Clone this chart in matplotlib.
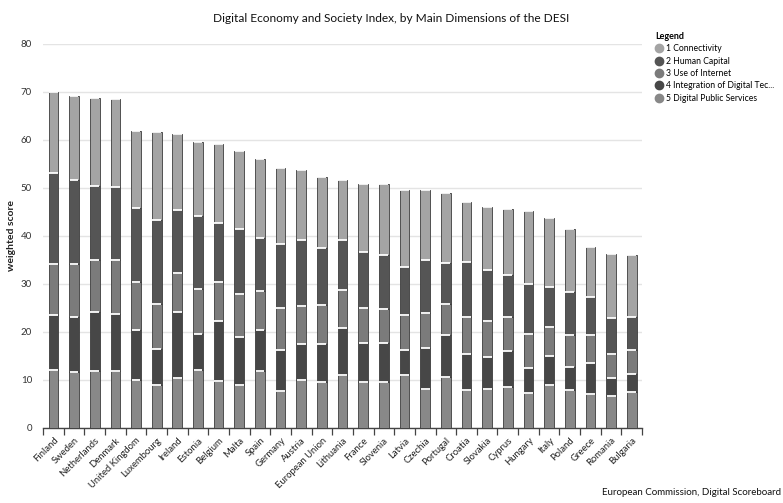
import numpy as np
import matplotlib
matplotlib.use("Agg")
import matplotlib.pyplot as plt
from matplotlib.lines import Line2D

plt.rcParams['font.family'] = ['Lato', 'DejaVu Sans']

countries = ["Finland", "Sweden", "Netherlands", "Denmark", "United Kingdom",
             "Luxembourg", "Ireland", "Estonia", "Belgium", "Malta", "Spain",
             "Germany", "Austria", "European Union", "Lithuania", "France",
             "Slovenia", "Latvia", "Czechia", "Portugal", "Croatia", "Slovakia",
             "Cyprus", "Hungary", "Italy", "Poland", "Greece", "Romania", "Bulgaria"]

# weighted scores per DESI dimension
digital_public_services = [11.9, 11.5, 11.7, 11.7, 9.9, 8.8, 10.4, 12.0, 9.8, 8.9, 11.7,
                           7.6, 9.9, 9.4, 11.0, 9.4, 9.4, 11.0, 8.1, 10.6, 7.8, 8.0,
                           8.5, 7.3, 8.8, 7.9, 7.0, 6.5, 7.5]
integration_digital_tech = [11.6, 11.6, 12.3, 11.9, 10.4, 7.5, 13.6, 7.6, 12.4, 9.9, 8.7,
                            8.6, 7.5, 8.0, 9.7, 8.2, 8.2, 5.2, 8.4, 8.6, 7.6, 6.7,
                            7.5, 5.2, 6.1, 4.7, 6.4, 3.9, 3.6]
use_of_internet = [10.5, 10.9, 11.0, 11.3, 10.1, 9.5, 8.2, 9.2, 8.1, 9.0, 8.1,
                   8.8, 8.0, 8.2, 7.9, 7.3, 7.1, 7.3, 7.3, 6.6, 7.7, 7.5,
                   7.1, 7.0, 6.1, 6.6, 5.9, 5.0, 5.1]
human_capital = [19.1, 17.5, 15.4, 15.2, 15.3, 17.4, 13.1, 15.3, 12.3, 13.6, 11.0,
                 13.3, 13.6, 11.8, 10.4, 11.6, 11.3, 9.9, 11.1, 8.6, 11.5, 10.7,
                 8.6, 10.4, 8.2, 9.1, 8.0, 7.4, 6.8]
connectivity = [16.8, 17.7, 18.3, 18.4, 16.1, 18.4, 15.9, 15.5, 16.6, 16.3, 16.4,
                15.9, 14.6, 14.8, 12.7, 14.2, 14.7, 16.2, 14.7, 14.5, 12.4, 13.1,
                13.9, 15.2, 14.4, 13.1, 10.4, 13.4, 13.0]

series_names = ["1 Connectivity", "2 Human Capital", "3 Use of Internet",
                "4 Integration of Digital Tec...", "5 Digital Public Services"]
series_colors = ["#a4a4a4", "#555555", "#7b7b7b", "#474747", "#888888"]

# stacked bottom to top: 5, 4, 3, 2, 1
stack = [digital_public_services, integration_digital_tech, use_of_internet,
         human_capital, connectivity]
stack_colors = series_colors[::-1]

fig = plt.figure(figsize=(7.83, 5.03), dpi=100)
ax = fig.add_axes([0.055, 0.150, 0.765, 0.763])

x = np.arange(len(countries))
width = 0.47
bottom = np.zeros(len(countries))
for vals, col in zip(stack, stack_colors):
    vals = np.asarray(vals)
    ax.bar(x, vals, width, bottom=bottom, color=col,
           edgecolor="#3c3c3c", linewidth=0.6, zorder=3)
    bottom = bottom + vals
    ax.hlines(bottom, x - width / 2 + 0.02, x + width / 2 - 0.02,
              colors="white", linewidth=1.3, zorder=4)

ax.set_ylim(0, 80)
ax.set_xlim(-0.5, len(countries) - 0.5)
ax.set_yticks(np.arange(0, 81, 10))
ax.yaxis.grid(True, color="#e4e4e4", linewidth=1.0, zorder=0)
ax.set_axisbelow(True)
for s in ["top", "right", "left"]:
    ax.spines[s].set_visible(False)
ax.spines["bottom"].set_color("#444444")
ax.spines["bottom"].set_linewidth(1.0)

ax.tick_params(axis="y", length=0, labelsize=7, labelcolor="#333333", pad=8)
ax.set_xticks(x)
ax.set_xticklabels(countries, rotation=45, ha="right", rotation_mode="anchor",
                   fontsize=6.8, color="#222222")
ax.tick_params(axis="x", which="major", length=0, pad=6)
ax.set_xticks(np.arange(-0.5, len(countries)), minor=True)
ax.tick_params(axis="x", which="minor", length=5, width=0.9, color="#444444")

fig.text(12 / 783, 1 - 235 / 503, "weighted score", rotation=90, ha="center",
         va="center", fontsize=7.5, fontweight="bold", color="#222222")

fig.text(0.5, 0.963, "Digital Economy and Society Index, by Main Dimensions of the DESI",
         ha="center", va="center", fontsize=8.6, color="#111111")

handles = [Line2D([0], [0], marker="o", linestyle="", markersize=6,
                  markerfacecolor=c, markeredgecolor=c) for c in series_colors]
leg = fig.legend(handles, series_names, loc="upper left",
                 bbox_to_anchor=(0.829, 0.948), frameon=False, fontsize=6.2,
                 title="Legend", title_fontsize=6.5, handletextpad=0.3,
                 labelspacing=0.38, borderpad=0.2, handlelength=1.0,
                 alignment="left")
leg.get_title().set_fontweight("bold")

fig.text(0.998, 0.012, "European Commission, Digital Scoreboard", ha="right",
         va="bottom", fontsize=7, color="#111111")

fig.savefig("out.png", dpi=100)
